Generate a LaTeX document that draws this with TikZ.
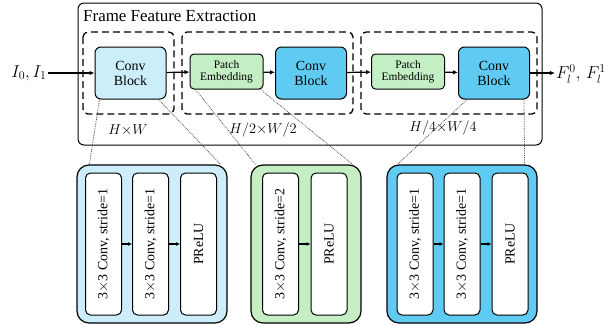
\documentclass[tikz,border=0pt]{standalone}
\usepackage{fontspec}
\setmainfont{Liberation Serif}
\usetikzlibrary{arrows.meta}
\definecolor{lightblk}{HTML}{CCEEFB}
\definecolor{blueblk}{HTML}{5FCBF3}
\definecolor{greenblk}{HTML}{C4EFC4}
\tikzset{
  blk/.style={draw=black, line width=1bp, rounded corners=6bp, align=center, inner sep=1bp},
  convblk/.style={blk, minimum width=71bp, minimum height=52bp, font=\fontsize{14}{15}\selectfont},
  patchblk/.style={blk, fill=greenblk, rounded corners=4bp, minimum width=73bp, minimum height=35bp, font=\fontsize{11.5}{12.5}\selectfont},
  stage/.style={draw=black, line width=1.3bp, dash pattern=on 7bp off 4bp, rounded corners=5bp},
  detail/.style={draw=black, line width=1.2bp, rounded corners=12bp, minimum height=158bp},
  layer/.style={draw=black, line width=1bp, fill=white, rounded corners=5bp, rotate=90,
    minimum width=142bp, minimum height=36bp, inner sep=1bp, font=\fontsize{14}{15}\selectfont},
  flow/.style={line width=1.2bp, -{Latex[length=5bp,width=4.5bp]}},
  small flow/.style={line width=1.2bp, -{Latex[length=4bp,width=4bp]}},
  zoomline/.style={densely dotted, line width=0.8bp, draw=black!70},
  dimlabel/.style={font=\fontsize{14}{15}\selectfont},
  iolabel/.style={font=\fontsize{17}{18}\selectfont, inner sep=1bp},
}
\begin{document}
\begin{tikzpicture}[x=1bp, y=-1bp]
\useasboundingbox (0,0) rectangle (610,326);

% outer frame and stage groups
\draw[line width=1bp, rounded corners=6bp] (78,3) rectangle (542,145);
\node[anchor=west, font=\fontsize{17}{18}\selectfont, inner sep=0pt] (title) at (83,16) {Frame Feature Extraction};
\draw[stage] (83,32) rectangle (174,114);
\draw[stage] (182,32) rectangle (353,114);
\draw[stage] (361,32) rectangle (537,114);

% main pipeline
\node[convblk, fill=lightblk] (c1) at (130.5,73) {Conv\\Block};
\node[patchblk] (p1) at (226.5,71.5) {Patch\\Embedding};
\node[convblk, fill=blueblk] (c2) at (311,73) {Conv\\Block};
\node[patchblk] (p2) at (408,71.5) {Patch\\Embedding};
\node[convblk, fill=blueblk] (c3) at (494,73) {Conv\\Block};

\node[iolabel] (in) at (29,73) {$I_0, I_1$};
\node[iolabel] (out) at (581,74) {$F_l^0,\,F_l^1$};

\draw[flow] (in) -- (c1);
\draw[flow] (c1) -- (p1);
\draw[flow] (p1) -- (c2);
\draw[flow] (c2) -- (p2);
\draw[flow] (p2) -- (c3);
\draw[flow] (c3.east) -- (c3.east -| out.west);

% resolutions
\node[dimlabel] (r1) at (128,130) {$H{\times}W$};
\node[dimlabel] (r2) at (263,130) {$H/2{\times}W/2$};
\node[dimlabel] (r3) at (443,128) {$H/4{\times}W/4$};

% detailed blocks
\node[detail, fill=lightblk, minimum width=150bp] (da) at (152,244) {};
\node[detail, fill=greenblk, minimum width=110bp] (db) at (306,244) {};
\node[detail, fill=blueblk, minimum width=150bp] (dc) at (462,244) {};

\node[layer] (a1) at (103.5,244) {3$\times$3 Conv, stride=1};
\node[layer] (a2) at (150.5,244) {3$\times$3 Conv, stride=1};
\node[layer] (a3) at (198.5,244) {PReLU};
\node[layer] (b1) at (280.5,244) {3$\times$3 Conv, stride=2};
\node[layer] (b2) at (329,244) {PReLU};
\node[layer] (e1) at (415,244) {3$\times$3 Conv, stride=1};
\node[layer] (e2) at (462,244) {3$\times$3 Conv, stride=1};
\node[layer] (e3) at (510,244) {PReLU};

\draw[small flow] (a1) -- (a2);
\draw[small flow] (a2) -- (a3);
\draw[small flow] (b1) -- (b2);
\draw[small flow] (e1) -- (e2);
\draw[small flow] (e2) -- (e3);

% zoom-in guides
\draw[zoomline] ([xshift=5bp]c1.south west) -- ([xshift=13bp]da.north west);
\draw[zoomline] ([xshift=-8bp]c1.south east) -- ([xshift=-7bp]da.north east);
\draw[zoomline] ([xshift=6bp]p1.south west) -- ([xshift=5bp]db.north west);
\draw[zoomline] ([xshift=-3bp]p1.south east) -- ([xshift=-9bp]db.north east);
\draw[zoomline] ([xshift=9bp]c3.south west) -- ([xshift=11bp]dc.north west);
\draw[zoomline] ([xshift=-6bp]c3.south east) -- ([xshift=-13bp]dc.north east);
\end{tikzpicture}
\end{document}
